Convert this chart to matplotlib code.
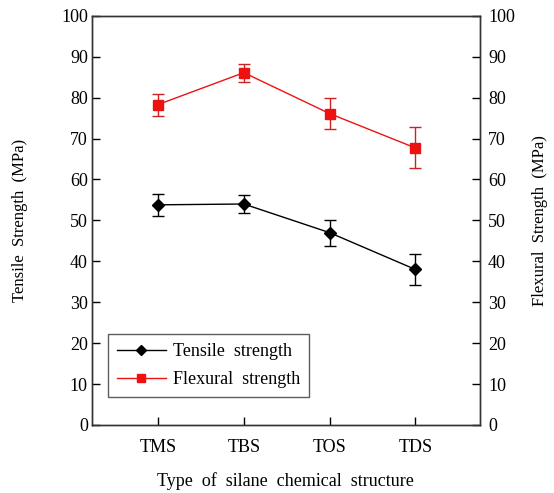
import matplotlib
matplotlib.use("Agg")
import matplotlib.pyplot as plt
from matplotlib.lines import Line2D
import numpy as np

categories = ["TMS", "TBS", "TOS", "TDS"]
tensile = [53.8, 54.0, 47.0, 38.0]
tensile_err = [2.7, 2.2, 3.2, 3.9]
flexural = [78.3, 86.1, 76.1, 67.7]
flexural_err = [2.7, 2.2, 3.8, 5.0]
yticks = [0, 10, 20, 30, 40, 50, 60, 70, 80, 90, 100]

plt.rcParams['font.family'] = ['Liberation Serif', 'DejaVu Serif']

fig = plt.figure(figsize=(5.54, 4.93), dpi=100)
ax = fig.add_axes([0.166, 0.138, 0.700, 0.830])
ax2 = ax.twinx()

x = np.arange(1, len(categories) + 1)
red = '#ee1111'

ax.errorbar(x, tensile, yerr=tensile_err, color='black', marker='D', markersize=6,
            linewidth=1.0, elinewidth=1.0, capsize=4, capthick=1.0)
ax2.errorbar(x, flexural, yerr=flexural_err, color=red, marker='s', markersize=7,
             linewidth=1.0, elinewidth=1.0, capsize=4, capthick=1.0, ecolor='#cc2222')

for a in (ax, ax2):
    a.set_ylim(0, 100)
    a.set_yticks(yticks)
    a.tick_params(axis='y', direction='in', length=6, width=1, labelsize=13)
    for s in a.spines.values():
        s.set_linewidth(1.0)
        s.set_color('#333333')

ax.set_xlim(0.23, 4.75)
ax.set_xticks(x)
ax.set_xticklabels(categories)
ax.tick_params(axis='x', direction='in', length=6, width=1, labelsize=13, pad=10)
ax.tick_params(axis='y', pad=3)
ax2.tick_params(axis='y', pad=6)

ax.set_ylabel('Tensile  Strength  (MPa)', fontsize=12, labelpad=24)
ax2.set_ylabel('Flexural  Strength  (MPa)', fontsize=12, labelpad=12)
ax.set_xlabel('Type  of  silane  chemical  structure', fontsize=13, labelpad=12)

h1 = Line2D([], [], color='black', marker='D', markersize=5, linewidth=1.0)
h2 = Line2D([], [], color=red, marker='s', markersize=6, linewidth=1.0)
leg = ax.legend([h1, h2], ['Tensile  strength', 'Flexural  strength'], loc='lower left',
                bbox_to_anchor=(0.041, 0.068), borderaxespad=0, fontsize=13, frameon=True,
                fancybox=False, edgecolor='#333333', handlelength=2.7, borderpad=0.5,
                labelspacing=0.6, handletextpad=0.4)
leg.get_frame().set_linewidth(1.0)

fig.savefig('out.png', dpi=100)
